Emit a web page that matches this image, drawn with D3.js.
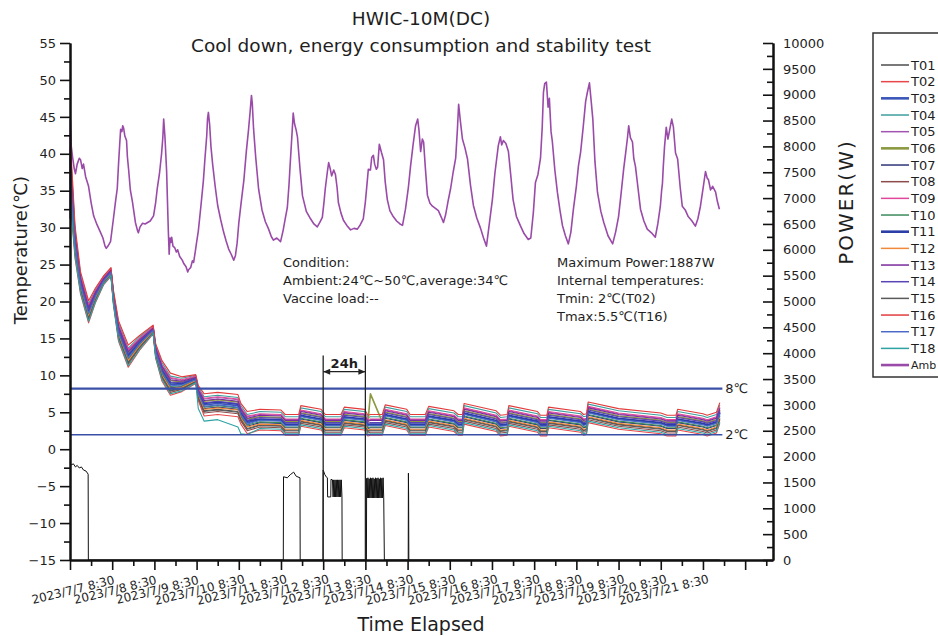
<!DOCTYPE html>
<html>
<head>
<meta charset="utf-8">
<script src="https://cdnjs.cloudflare.com/ajax/libs/d3/7.8.5/d3.min.js"></script>
<style>
  body { margin: 0; background: #fff; }
  svg text { font-family: "DejaVu Sans", sans-serif; fill: #1e1e1e; }
</style>
</head>
<body>
<div id="node"></div>
<script>
// ---- data (days elapsed since 2023/7/7 8:30) ----
var dayLabels = ["2023/7/7 8:30", "2023/7/8 8:30", "2023/7/9 8:30", "2023/7/10 8:30", "2023/7/11 8:30",
    "2023/7/12 8:30", "2023/7/13 8:30", "2023/7/14 8:30", "2023/7/15 8:30", "2023/7/16 8:30",
    "2023/7/17 8:30", "2023/7/18 8:30", "2023/7/19 8:30", "2023/7/20 8:30", "2023/7/21 8:30"]

var sensorNames = ["T01", "T02", "T03", "T04", "T05", "T06", "T07", "T08", "T09",
    "T10", "T11", "T12", "T13", "T14", "T15", "T16", "T17", "T18"]
var sensorColors = ["#4d4d4d", "#e8474a", "#3a56b8", "#3d9e9e", "#a155b0", "#8c9940", "#2e3577", "#8e4b4b", "#e0479a",
    "#3c8a5c", "#2c3ea8", "#f08a3a", "#7b2a9c", "#5a45b5", "#5a5a5a", "#e33b3b", "#4a6ac7", "#2fa3a3"]

var sensorDays = [0, 0.05, 0.12, 0.25, 0.44, 0.6, 0.8, 0.97, 1.03, 1.15, 1.38, 1.65, 1.97, 2.03, 2.18,
    2.38, 2.65, 2.98, 3.04, 3.18, 3.5, 3.98, 4.05, 4.2, 4.5, 5.0, 5.1, 5.42, 5.47, 5.95, 6.05, 6.42, 6.5,
    6.98, 7.06, 7.12, 7.4, 7.47, 7.98, 8.06, 8.42, 8.5, 9.1, 9.2, 9.3, 9.34, 10.1, 10.2, 10.36, 10.4,
    11.08, 11.15, 11.3, 11.34, 12.1, 12.17, 12.24, 12.28, 13.0, 14.0, 14.15, 14.36, 14.4, 15.0, 15.1, 15.32, 15.4]

var T01 = [37.2,32.2,26.9,21.7,17.8,20.3,22.6,23.7,20.0,15.3,11.8,13.9,15.9,12.8,9.9,8.0,8.3,9.2,7.1,5.2,5.4,5.1,4.1,2.8,
    3.3,3.2,2.6,2.6,3.8,3.3,2.6,2.6,3.6,3.3,2.5,2.6,2.6,3.9,3.3,2.6,2.6,3.7,3.1,2.6,2.6,4.1,3.1,2.5,2.6,3.8,3.0,2.5,2.5,3.6,3.0,2.6,2.7,4.3,3.4,2.8,2.5,2.5,3.3,2.7,2.5,2.9,4.2]
var T02 = [35.5,30.5,25.8,21.0,17.1,19.8,22.3,23.4,19.5,14.6,11.1,13.4,15.6,12.3,9.2,7.3,7.8,8.9,6.6,4.5,4.7,4.4,3.4,2.1,
    2.6,2.5,1.9,1.9,3.1,2.6,1.9,1.9,2.9,2.6,1.8,1.9,1.9,3.2,2.6,1.9,1.9,3.0,2.4,1.9,1.9,3.4,2.4,1.8,1.9,3.1,2.3,1.8,1.8,2.9,2.3,1.9,2.0,3.6,2.7,2.1,1.8,1.8,2.6,2.0,1.8,2.2,3.5]
var T03 = [39,34,28,22.5,18.6,20.8,22.9,24.0,20.5,16.0,12.6,14.4,16.2,13.3,10.6,8.8,8.8,9.5,7.6,6.0,6.2,5.9,4.8,3.6,
    4.0,3.9,3.3,3.3,4.5,4.0,3.3,3.3,4.3,4.0,3.2,3.3,3.3,4.6,4.0,3.3,3.3,4.4,3.8,3.3,3.3,4.8,3.8,3.2,3.3,4.5,3.7,3.2,3.2,4.3,3.7,3.3,3.4,5.0,4.1,3.5,3.2,3.2,4.0,3.4,3.2,3.6,4.9]
var T04 = [41.6,36.6,29.7,23.6,19.7,21.6,23.4,24.5,21.3,17.1,13.7,15.2,16.7,14.1,11.7,9.9,9.6,10.0,8.4,7.1,7.3,7.0,5.9,4.7,
    5.1,5.0,4.4,4.4,5.6,5.1,4.4,4.4,5.4,5.1,4.3,4.4,4.4,5.7,5.1,4.4,4.4,5.5,4.9,4.4,4.4,5.9,4.9,4.3,4.4,5.6,4.8,4.3,4.3,5.4,4.8,4.4,4.5,6.1,5.2,4.6,4.3,4.3,5.1,4.5,4.3,4.7,6.0]
var T05 = [40.8,35.8,29.1,23.3,19.4,21.3,23.2,24.3,21.0,16.7,13.4,14.9,16.5,13.8,11.3,9.6,9.3,9.8,8.1,6.8,7.0,6.7,5.5,4.4,
    4.7,4.6,4.0,4.0,5.2,4.7,4.0,4.0,5.0,4.7,3.9,4.0,4.0,5.3,4.7,4.0,4.0,5.1,4.5,4.0,4.0,5.5,4.5,3.9,4.0,5.2,4.4,3.9,3.9,5.0,4.4,4.0,4.1,5.7,4.8,4.2,3.9,3.9,4.7,4.1,3.9,4.3,5.6]
var T06 = [40.1,35.1,28.7,23.0,19.1,21.1,23.1,24.2,20.8,16.4,13.1,14.7,16.4,13.6,11.0,9.3,9.1,9.7,7.9,6.5,6.7,6.4,5.2,4.1,
    4.4,4.3,3.7,3.7,4.9,4.4,3.7,3.7,4.7,4.4,3.6,7.5,3.7,5.0,4.4,3.7,3.7,4.8,4.2,3.7,3.7,5.2,4.2,3.6,3.7,4.9,4.1,3.6,3.6,4.7,4.1,3.7,3.8,5.4,4.5,3.9,3.6,3.6,4.4,3.8,3.6,4.0,5.3]
var T07 = [37.9,32.9,27.3,22.0,18.1,20.5,22.7,23.8,20.2,15.6,12.1,14.1,16.0,13.0,10.2,8.3,8.5,9.3,7.3,5.5,5.7,5.4,4.4,3.1,
    3.6,3.5,2.9,2.9,4.1,3.6,2.9,2.9,3.9,3.6,2.8,2.9,2.9,4.2,3.6,2.9,2.9,4.0,3.4,2.9,2.9,4.4,3.4,2.8,2.9,4.1,3.3,2.8,2.8,3.9,3.3,2.9,3.0,4.6,3.7,3.1,2.8,2.8,3.6,3.0,2.8,3.2,4.5]
var T08 = [36.5,31.5,26.5,21.4,17.5,20.1,22.5,23.6,19.8,15.0,11.5,13.7,15.8,12.6,9.6,7.7,8.1,9.1,6.9,4.9,5.1,4.8,3.8,2.5,
    3.0,2.9,2.3,2.3,3.5,3.0,2.3,2.3,3.3,3.0,2.2,2.3,2.3,3.6,3.0,2.3,2.3,3.4,2.8,2.3,2.3,3.8,2.8,2.2,2.3,3.5,2.7,2.2,2.2,3.3,2.7,2.3,2.4,4.0,3.1,2.5,2.2,2.2,3.0,2.4,2.2,2.6,3.9]
var T09 = [41.1,36.1,29.3,23.4,19.5,21.4,23.3,24.4,21.1,16.8,13.5,15.0,16.6,13.9,11.4,9.7,9.4,9.9,8.2,6.9,7.1,6.8,5.6,4.5,
    4.8,4.7,4.1,4.1,5.3,4.8,4.1,4.1,5.1,4.8,4.0,4.1,4.1,5.4,4.8,4.1,4.1,5.2,4.6,4.1,4.1,5.6,4.6,4.0,4.1,5.3,4.5,4.0,4.0,5.1,4.5,4.1,4.2,5.8,4.9,4.3,4.0,4.0,4.8,4.2,4.0,4.4,5.7]
var T10 = [38.3,33.3,27.6,22.2,18.3,20.6,22.8,23.9,20.3,15.7,12.3,14.2,16.1,13.1,10.3,8.5,8.6,9.4,7.4,5.7,5.9,5.6,4.5,3.3,
    3.7,3.6,3.0,3.0,4.2,3.7,3.0,3.0,4.0,3.7,2.9,3.0,3.0,4.3,3.7,3.0,3.0,4.1,3.5,3.0,3.0,4.5,3.5,2.9,3.0,4.2,3.4,2.9,2.9,4.0,3.4,3.0,3.1,4.7,3.8,3.2,2.9,2.9,3.7,3.1,2.9,3.3,4.6]
var T11 = [39.4,34.4,28.2,22.7,18.8,20.9,23.0,24.1,20.6,16.1,12.8,14.5,16.3,13.4,10.7,9.0,8.9,9.6,7.7,6.2,6.4,6.1,4.9,3.8,
    4.1,4.0,3.4,3.4,4.6,4.1,3.4,3.4,4.4,4.1,3.3,3.4,3.4,4.7,4.1,3.4,3.4,4.5,3.9,3.4,3.4,4.9,3.9,3.3,3.4,4.6,3.8,3.3,3.3,4.4,3.8,3.4,3.5,5.1,4.2,3.6,3.3,3.3,4.1,3.5,3.3,3.7,5.0]
var T12 = [37.6,32.6,27.1,21.9,18.0,20.4,22.7,23.8,20.1,15.4,12.0,14.0,16.0,12.9,10.0,8.2,8.4,9.3,7.2,5.4,5.6,5.3,4.2,3.0,
    3.4,3.3,2.7,2.7,3.9,3.4,2.7,2.7,3.7,3.4,2.6,2.7,2.7,4.0,3.4,2.7,2.7,3.8,3.2,2.7,2.7,4.2,3.2,2.6,2.7,3.9,3.1,2.6,2.6,3.7,3.1,2.7,2.8,4.4,3.5,2.9,2.6,2.6,3.4,2.8,2.6,3.0,4.3]
var T13 = [40.4,35.4,28.9,23.1,19.2,21.2,23.1,24.2,20.9,16.6,13.2,14.8,16.4,13.7,11.2,9.4,9.2,9.7,8.0,6.6,6.8,6.5,5.4,4.2,
    4.6,4.5,3.9,3.9,5.1,4.6,3.9,3.9,4.9,4.6,3.8,3.9,3.9,5.2,4.6,3.9,3.9,5.0,4.4,3.9,3.9,5.4,4.4,3.8,3.9,5.1,4.3,3.8,3.8,4.9,4.3,3.9,4.0,5.6,4.7,4.1,3.8,3.8,4.6,4.0,3.8,4.2,5.5]
var T14 = [39.7,34.7,28.4,22.8,18.9,21.0,23.0,24.1,20.7,16.3,12.9,14.6,16.3,13.5,10.9,9.1,9.0,9.6,7.8,6.3,6.5,6.2,5.1,3.9,
    4.3,4.2,3.6,3.6,4.8,4.3,3.6,3.6,4.6,4.3,3.5,3.6,3.6,4.9,4.3,3.6,3.6,4.7,4.1,3.6,3.6,5.1,4.1,3.5,3.6,4.8,4.0,3.5,3.5,4.6,4.0,3.6,3.7,5.3,4.4,3.8,3.5,3.5,4.3,3.7,3.5,3.9,5.2]
var T15 = [36.9,31.9,26.7,21.6,17.7,20.2,22.5,23.6,19.9,15.2,11.7,13.8,15.8,12.7,9.8,7.9,8.2,9.1,7.0,5.1,5.3,5.0,4.0,2.7,
    3.2,3.1,2.5,2.5,3.7,3.2,2.5,2.5,3.5,3.2,2.4,2.5,2.5,3.8,3.2,2.5,2.5,3.6,3.0,2.5,2.5,4.0,3.0,2.4,2.5,3.7,2.9,2.4,2.4,3.5,2.9,2.5,2.6,4.2,3.3,2.7,2.4,2.4,3.2,2.6,2.4,2.8,4.1]
var T16 = [42.5,37.5,30.2,24.0,20.1,21.8,23.5,24.6,21.5,17.4,14.1,15.4,16.8,14.3,12.0,10.3,9.8,10.1,8.6,7.5,7.7,7.4,6.2,5.1,
    5.4,5.3,4.7,4.7,5.9,5.4,4.7,4.7,5.7,5.4,4.6,4.7,4.7,6.0,5.4,4.7,4.7,5.8,5.2,4.7,4.7,6.2,5.2,4.6,4.7,5.9,5.1,4.6,4.6,5.7,5.1,4.7,4.8,6.4,5.5,4.9,4.6,4.6,5.4,4.8,4.6,5.0,6.3]
var T17 = [38.6,33.6,27.8,22.3,18.4,20.7,22.8,23.9,20.4,15.9,12.4,14.3,16.1,13.2,10.5,8.6,8.7,9.4,7.5,5.8,6.0,5.7,4.7,3.4,
    3.9,3.8,3.2,3.2,4.4,3.9,3.2,3.2,4.2,3.9,3.1,3.2,3.2,4.5,3.9,3.2,3.2,4.3,3.7,3.2,3.2,4.7,3.7,3.1,3.2,4.4,3.6,3.1,3.1,4.2,3.6,3.2,3.3,4.9,4.0,3.4,3.1,3.1,3.9,3.3,3.1,3.5,4.8]
var T18 = [36.0,31.0,26.1,21.2,17.3,19.9,22.4,23.5,19.6,14.8,11.3,13.5,15.7,12.4,9.4,7.5,7.9,9.0,5.5,3.8,4.0,3.0,2.1,2.0,
    2.8,2.7,2.1,2.1,3.3,2.8,2.1,2.1,3.1,2.8,2.0,2.1,2.1,3.4,2.8,2.1,2.1,3.2,2.6,2.1,2.1,3.6,2.6,2.0,2.1,3.3,2.5,2.0,2.0,3.1,2.5,2.1,2.2,3.8,2.9,2.3,2.0,2.0,2.8,2.2,2.0,2.4,3.7]
var sensorSeries = [T01, T02, T03, T04, T05, T06, T07, T08, T09, T10, T11, T12, T13, T14, T15, T16, T17, T18]

// [day, °C]
var ambientReadings = [
    [0,31.2],[0.01,44.6],[0.03,41.0],[0.06,39.6],[0.1,38.0],[0.13,37.3],[0.17,38.6],[0.22,39.4],[0.25,39.2],[0.29,38.0],
    [0.32,38.6],[0.37,36.9],[0.44,35.6],[0.5,33.4],[0.56,31.6],[0.64,30.4],[0.72,29.4],[0.78,28.6],[0.83,27.5],[0.86,27.2],
    [0.9,27.5],[0.96,28.1],[1.02,30.8],[1.08,33.6],[1.12,35.3],[1.15,38.6],[1.18,41.5],[1.2,43.3],[1.23,43.0],[1.25,43.8],
    [1.27,43.5],[1.3,42.4],[1.34,41.8],[1.36,39.6],[1.39,37.8],[1.43,35.1],[1.48,33.5],[1.52,31.9],[1.55,30.7],[1.6,29.6],
    [1.62,29.3],[1.66,30.1],[1.72,30.6],[1.78,30.5],[1.84,30.7],[1.9,30.9],[1.98,31.6],[2.03,33.4],[2.07,35.4],[2.12,37.3],
    [2.17,40.0],[2.2,42.2],[2.22,44.7],[2.25,42.3],[2.29,37.6],[2.31,33.5],[2.33,29.6],[2.35,26.4],[2.37,28.6],[2.39,28.0],
    [2.41,28.7],[2.44,27.5],[2.48,27.3],[2.52,26.7],[2.55,27.0],[2.6,26.1],[2.66,25.6],[2.7,25.1],[2.75,24.7],[2.79,24.0],
    [2.81,24.3],[2.86,24.6],[2.9,25.5],[2.93,25.3],[2.97,26.8],[3.0,28.0],[3.04,29.5],[3.1,32.8],[3.16,36.3],[3.2,39.5],
    [3.24,42.4],[3.26,44.8],[3.28,45.6],[3.31,43.9],[3.34,41.0],[3.38,38.6],[3.44,35.6],[3.5,33.0],[3.57,31.1],[3.64,29.4],
    [3.7,28.2],[3.76,27.1],[3.82,26.4],[3.88,25.6],[3.92,26.2],[3.96,27.9],[4.0,30.6],[4.06,33.6],[4.12,36.4],[4.18,40.4],
    [4.23,43.2],[4.27,45.8],[4.3,47.9],[4.32,46.8],[4.35,43.4],[4.4,39.6],[4.47,35.2],[4.55,32.4],[4.63,30.8],[4.7,29.9],
    [4.77,28.8],[4.82,28.3],[4.9,28.6],[4.99,28.1],[5.05,29.6],[5.1,31.2],[5.15,32.7],[5.19,35.8],[5.22,38.8],[5.26,42.6],
    [5.29,45.5],[5.32,44.1],[5.36,43.2],[5.39,42.3],[5.45,38.0],[5.51,34.3],[5.6,32.2],[5.7,31.2],[5.78,30.5],[5.86,30.1],
    [5.92,30.7],[5.98,31.4],[6.02,33.5],[6.05,35.3],[6.1,37.6],[6.13,38.8],[6.17,37.9],[6.2,37.0],[6.25,37.8],[6.29,37.2],
    [6.33,35.4],[6.36,33.4],[6.42,32.0],[6.48,31.0],[6.56,30.3],[6.65,29.7],[6.73,29.9],[6.81,29.8],[6.88,30.4],[6.95,31.2],
    [7.0,33.5],[7.04,36.0],[7.07,37.9],[7.12,37.8],[7.15,39.5],[7.19,39.8],[7.22,38.6],[7.26,37.9],[7.29,38.2],[7.33,41.3],
    [7.38,40.2],[7.43,39.2],[7.47,36.2],[7.52,33.8],[7.58,32.3],[7.66,31.5],[7.74,30.9],[7.82,30.5],[7.88,30.3],[7.95,32.5],
    [8.02,35.5],[8.07,38.3],[8.13,41.2],[8.19,43.8],[8.24,44.7],[8.27,43.2],[8.31,40.3],[8.35,42.0],[8.38,41.6],[8.42,38.2],
    [8.47,34.4],[8.53,33.3],[8.59,32.9],[8.66,32.6],[8.73,32.3],[8.8,31.4],[8.85,30.7],[8.9,31.7],[8.96,33.6],[9.02,35.3],
    [9.08,37.5],[9.14,39.4],[9.18,43.2],[9.21,46.7],[9.25,44.5],[9.3,42.0],[9.36,40.8],[9.42,39.3],[9.49,35.8],[9.56,33.0],
    [9.64,31.3],[9.73,29.9],[9.8,28.6],[9.87,27.5],[9.93,30.2],[10.01,33.8],[10.07,37.4],[10.15,41.1],[10.2,42.3],[10.23,41.2],
    [10.27,41.8],[10.33,41.4],[10.39,40.3],[10.45,36.8],[10.5,33.8],[10.58,31.5],[10.67,30.3],[10.76,29.2],[10.86,28.4],[10.92,28.6],
    [10.98,32.0],[11.03,36.1],[11.09,37.2],[11.15,39.4],[11.19,43.5],[11.22,48.3],[11.25,49.5],[11.29,49.7],[11.33,46.3],[11.36,47.5],
    [11.4,43.0],[11.43,41.7],[11.49,37.8],[11.55,34.8],[11.61,32.4],[11.67,30.3],[11.74,28.9],[11.81,27.8],[11.87,29.4],[11.93,32.5],
    [12.0,35.6],[12.05,38.4],[12.1,40.2],[12.16,43.5],[12.22,47.1],[12.26,48.3],[12.31,49.6],[12.35,47.2],[12.39,44.7],[12.44,39.0],
    [12.5,34.8],[12.58,32.2],[12.65,30.7],[12.75,28.9],[12.86,27.8],[12.93,29.4],[13.0,31.5],[13.06,34.6],[13.12,37.9],[13.17,40.2],
    [13.21,42.1],[13.24,43.8],[13.28,42.2],[13.33,41.6],[13.36,39.4],[13.4,38.3],[13.46,35.4],[13.52,32.5],[13.6,30.9],[13.68,29.8],
    [13.78,29.3],[13.87,28.7],[13.93,30.5],[13.99,32.9],[14.02,35.0],[14.04,36.0],[14.06,38.3],[14.09,41.0],[14.13,43.6],[14.17,42.0],
    [14.21,43.2],[14.26,44.7],[14.3,43.6],[14.35,40.1],[14.4,39.3],[14.46,35.5],[14.51,32.9],[14.58,32.4],[14.65,31.5],[14.74,30.9],
    [14.82,30.2],[14.88,31.2],[14.94,32.9],[15.0,35.2],[15.06,37.6],[15.1,36.7],[15.13,36.5],[15.18,35.1],[15.23,35.6],[15.3,34.8],
    [15.34,33.6],[15.39,32.5]
]

// [day, W]
var powerReadings = [
    [0,1887],[0.03,1840],[0.08,1860],[0.13,1800],[0.17,1830],[0.22,1780],[0.27,1800],[0.32,1740],[0.38,1720],[0.43,1660],[0.435,0],
    [5.055,0],[5.06,1610],[5.15,1590],[5.22,1650],[5.3,1700],[5.36,1620],[5.45,1590],[5.455,0],
    [5.995,0],[6.0,1740],[6.04,1650],[6.08,1600],[6.1,1590],[6.105,1220],[6.18,1220],[6.185,1560],[6.22,1550],
    [6.235,1220],[6.25,1550],[6.265,1220],[6.28,1550],[6.295,1220],[6.31,1550],[6.325,1220],[6.34,1550],[6.355,1220],
    [6.37,1550],[6.385,1220],[6.4,1550],[6.415,1220],[6.43,1550],[6.445,1220],[6.45,0],
    [7.025,0],[7.03,1580],[7.045,1200],[7.06,1590],[7.075,1200],[7.09,1570],[7.105,1200],[7.12,1590],[7.135,1200],
    [7.15,1580],[7.165,1200],[7.18,1590],[7.195,1200],[7.21,1570],[7.225,1200],[7.24,1590],[7.255,1200],[7.27,1580],
    [7.285,1200],[7.3,1590],[7.315,1200],[7.33,1570],[7.345,1200],[7.36,1590],[7.375,1200],[7.39,1580],[7.405,1200],
    [7.42,1590],[7.435,1200],[7.45,0],
    [8.015,0],[8.02,1680],[8.025,1200],[8.03,0],[15.4,0]
]

var refLevels = [8.2, 1.95]
var refLabels = ["8℃", "2℃"]
var markDays = [6, 7]

var noteLeft = ["Condition:", "Ambient:24℃~50℃,average:34℃", "Vaccine load:--"]
var noteRight = ["Maximum Power:1887W", "Internal temperatures:", "Tmin: 2℃(T02)", "Tmax:5.5℃(T16)"]

drawChart()

function drawChart() {
    var margin = { top: 43, right: 165, bottom: 76, left: 70 }
    var width = 938 - margin.left - margin.right
    var height = 636 - margin.top - margin.bottom

    var root = d3.select("#node")
        .append("svg")
        .attr("width", 938)
        .attr("height", 636)
    var svg = root.append("g")
        .attr("transform", "translate(" + margin.left + "," + margin.top + ")")

    var x = d3.scaleLinear().domain([0, 16.66]).range([0, width])
    var yT = d3.scaleLinear().domain([-15, 55]).range([height, 0])
    var yP = d3.scaleLinear().domain([0, 10000]).range([height, 0])

    // ambient
    svg.append("path")
        .datum(ambientReadings)
        .attr("fill", "none")
        .attr("stroke", "#9a4aa8")
        .attr("stroke-width", 1.6)
        .attr("stroke-linejoin", "round")
        .attr("d", d3.line().x(d => x(d[0])).y(d => yT(d[1])))

    // compressor power
    svg.append("path")
        .datum(powerReadings)
        .attr("fill", "none")
        .attr("stroke", "#111")
        .attr("stroke-width", 1)
        .attr("d", d3.line().x(d => x(d[0])).y(d => yP(d[1])))

    // internal sensors
    var sensorLine = d3.line()
        .defined((d, i) => i < sensorDays.length)
        .x((d, i) => x(sensorDays[i]))
        .y(d => yT(d))
    svg.append("g")
        .selectAll("path")
        .data(sensorSeries)
        .enter()
        .append("path")
        .attr("fill", "none")
        .attr("stroke", (d, i) => sensorColors[i])
        .attr("stroke-width", (d, i) => (i == 2 || i == 5 || i == 10) ? 1.6 : 1.1)
        .attr("stroke-linejoin", "round")
        .attr("d", sensorLine)

    // 8℃ / 2℃ limits
    svg.selectAll(".ref")
        .data(refLevels)
        .enter()
        .append("line")
        .attr("x1", x(0))
        .attr("x2", x(15.46))
        .attr("y1", d => yT(d))
        .attr("y2", d => yT(d))
        .attr("stroke", "#3a50a6")
        .attr("stroke-width", (d, i) => i == 0 ? 2.2 : 1.6)
    svg.selectAll(".refLabel")
        .data(refLevels)
        .enter()
        .append("text")
        .attr("x", x(15.53))
        .attr("y", d => yT(d))
        .attr("dominant-baseline", "central")
        .style("font-size", "13px")
        .text((d, i) => refLabels[i])

    // 24h marker
    svg.selectAll(".mark")
        .data(markDays)
        .enter()
        .append("line")
        .attr("x1", d => x(d))
        .attr("x2", d => x(d))
        .attr("y1", yT(12.7))
        .attr("y2", yT(-15))
        .attr("stroke", "#222")
        .attr("stroke-width", 1.3)
    var ay = yT(10.5)
    svg.append("line")
        .attr("x1", x(6)).attr("x2", x(7))
        .attr("y1", ay).attr("y2", ay)
        .attr("stroke", "#222").attr("stroke-width", 1.2)
    svg.append("path")
        .attr("d", "M" + x(6) + "," + ay + "l7,-3v6z M" + x(7) + "," + ay + "l-7,-3v6z")
        .attr("fill", "#222")
    svg.append("text")
        .attr("x", x(6.5))
        .attr("y", yT(11.05))
        .attr("text-anchor", "middle")
        .style("font-size", "13px")
        .style("font-weight", "bold")
        .text("24h")

    // notes
    svg.append("g").selectAll("text")
        .data(noteLeft).enter().append("text")
        .attr("x", 213).attr("y", (d, i) => 224 + i * 18)
        .style("font-size", "13px")
        .text(d => d)
    svg.append("g").selectAll("text")
        .data(noteRight).enter().append("text")
        .attr("x", 487).attr("y", (d, i) => 224 + i * 18)
        .style("font-size", "13px")
        .text(d => d)

    // left axis
    svg.append("g")
        .call(d3.axisLeft(yT).tickValues(d3.range(-15, 56, 5)).tickSize(10).tickSizeOuter(0).tickPadding(4))
    svg.append("g")
        .call(d3.axisLeft(yT).tickValues(d3.range(-12.5, 55, 5)).tickSize(6).tickSizeOuter(0).tickFormat(""))
    // right axis
    svg.append("g")
        .attr("transform", "translate(" + width + ",0)")
        .call(d3.axisRight(yP).tickValues(d3.range(0, 10001, 500)).tickFormat(d3.format("d"))
            .tickSizeInner(-10).tickSizeOuter(0).tickPadding(10))
    svg.append("g")
        .attr("transform", "translate(" + width + ",0)")
        .call(d3.axisRight(yP).tickValues(d3.range(250, 10000, 500)).tickSizeInner(-6).tickSizeOuter(0).tickFormat(""))
    // bottom axis
    svg.append("g")
        .attr("transform", "translate(0," + height + ")")
        .call(d3.axisBottom(x).tickValues(d3.range(0, 17)).tickSize(10).tickSizeOuter(0).tickFormat(""))
    svg.append("g")
        .attr("transform", "translate(0," + height + ")")
        .call(d3.axisBottom(x).tickValues(d3.range(0.5, 16.6, 1)).tickSize(6).tickSizeOuter(0).tickFormat(""))

    svg.selectAll(".domain").attr("stroke", "#111").attr("stroke-width", 2)
    svg.selectAll(".tick line").attr("stroke", "#111").attr("stroke-width", 1.6)
    svg.selectAll(".tick text").style("font-size", "13px").style("font-family", "DejaVu Sans").attr("fill", "#1e1e1e")

    svg.append("g").selectAll("text")
        .data(dayLabels).enter().append("text")
        .attr("transform", (d, i) => "translate(" + (x(i) + 3) + "," + (height + 30) + ") rotate(-14)")
        .attr("text-anchor", "middle")
        .attr("dominant-baseline", "central")
        .style("font-size", "12px")
        .text(d => d)

    // titles
    root.append("text").attr("x", 421).attr("y", 25).attr("text-anchor", "middle")
        .style("font-size", "18.5px").text("HWIC-10M(DC)")
    root.append("text").attr("x", 421).attr("y", 52).attr("text-anchor", "middle")
        .style("font-size", "18.5px").text("Cool down, energy consumption and stability test")
    root.append("text").attr("x", 421).attr("y", 631).attr("text-anchor", "middle")
        .style("font-size", "19px").text("Time Elapsed")
    root.append("text").attr("transform", "translate(20,250) rotate(-90)")
        .attr("text-anchor", "middle").attr("dominant-baseline", "central")
        .style("font-size", "18px").text("Temperature(℃)")
    root.append("text").attr("transform", "translate(846,202) rotate(-90)")
        .attr("text-anchor", "middle").attr("dominant-baseline", "central")
        .style("font-size", "20px").style("letter-spacing", "2px").text("POWER(W)")

    // legend (box runs past the right edge, as in the original)
    var legendNames = sensorNames.concat(["Amb"])
    var legendColors = sensorColors.concat(["#9a4aa8"])
    var lg = root.append("g")
    lg.append("rect")
        .attr("x", 873).attr("y", 33).attr("width", 90).attr("height", 344)
        .attr("fill", "#fff").attr("stroke", "#333").attr("stroke-width", 1.5)
    var item = lg.selectAll(".item")
        .data(legendNames).enter().append("g")
        .attr("transform", (d, i) => "translate(0," + (65 + i * 16.67) + ")")
    item.append("line")
        .attr("x1", 881).attr("x2", 909)
        .attr("stroke", (d, i) => legendColors[i])
        .attr("stroke-width", (d, i) => (i == 2 || i == 5 || i == 10 || i == 18) ? 2.6 : 1.5)
    item.append("text")
        .attr("x", 911).attr("dominant-baseline", "central")
        .style("font-size", d => d == "Amb" ? "11px" : "13px")
        .text(d => d)
}
</script>
</body>
</html>
